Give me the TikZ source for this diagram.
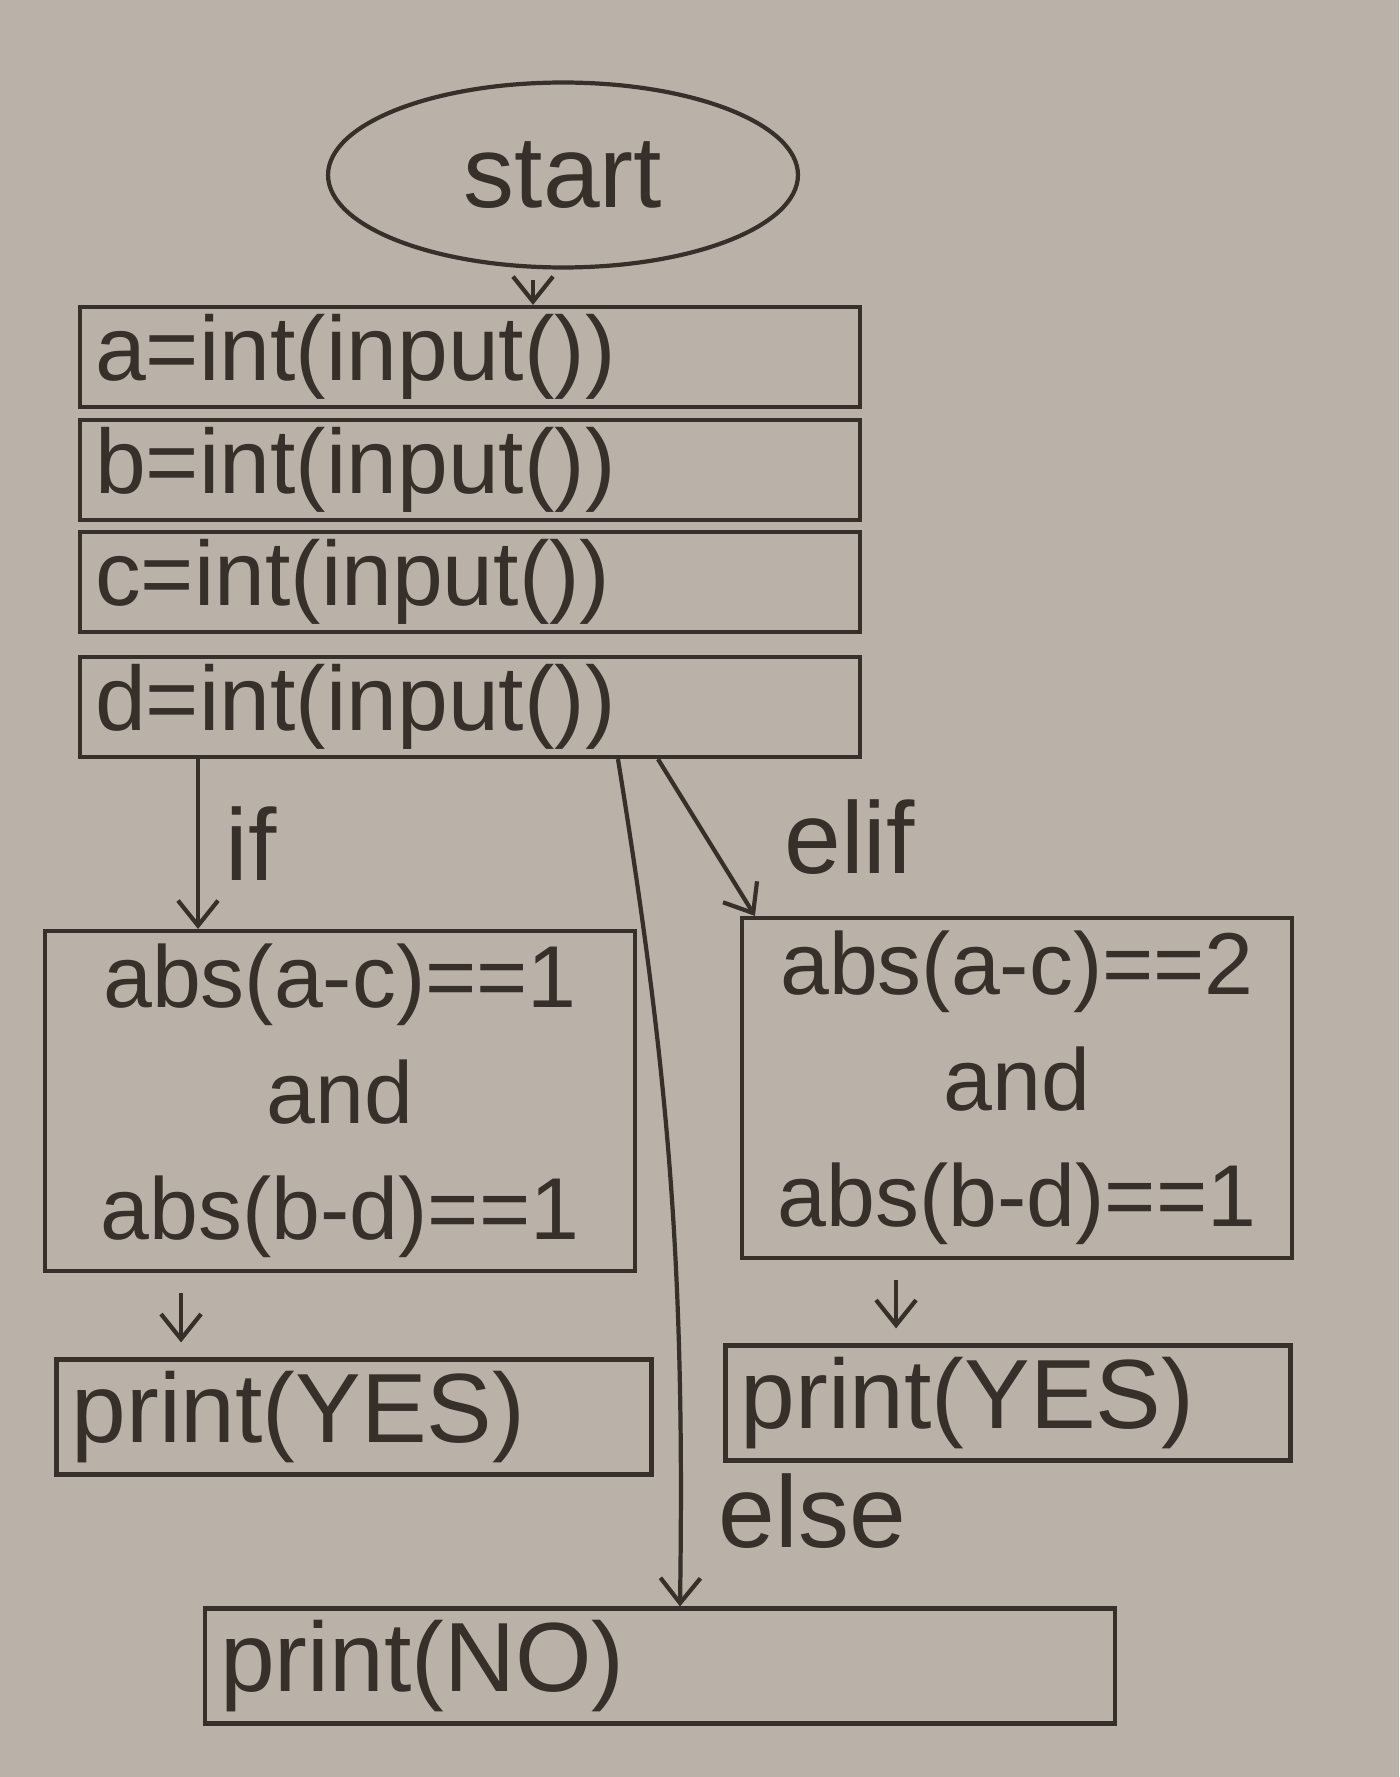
\documentclass[tikz,border=0pt]{standalone}
\usepackage{fontspec}
\setmainfont{Liberation Sans}
\usetikzlibrary{arrows.meta, positioning}
\usetikzlibrary{shapes.geometric}

\definecolor{paper}{RGB}{186,178,168}
\definecolor{ink}{RGB}{55,48,42}

\begin{document}
\begin{tikzpicture}[
    x=0.02cm, y=-0.02cm,
    every node/.style={draw=ink, text=ink, line width=2.4pt, align=center},
    startstop/.style={ellipse, minimum width=9.4cm, minimum height=3.7cm, font=\fontsize{58}{60}\selectfont},
    inbox/.style={rectangle, text width=15cm, inner xsep=0.3cm, inner ysep=0pt, minimum height=2cm, align=left, font=\fontsize{52}{54}\selectfont}, % input lines
    condbox/.style={rectangle, minimum height=6.8cm, inner xsep=0.2cm, font=\fontsize{50}{66}\selectfont},
    outbox/.style={rectangle, inner xsep=0.3cm, minimum height=2.3cm, align=left, font=\fontsize{56}{58}\selectfont},
    lbl/.style={draw=none, font=\fontsize{58}{60}\selectfont},
    line/.style={draw=ink, -{Straight Barb[length=0.5cm, width=0.8cm]}, line width=2.4pt}
]

\fill[paper] (0,0) rectangle (1399,1777);
\useasboundingbox (0,0) rectangle (1399,1777);

% Start
\node[startstop] (start) at (563,175) {start};

% Input lines
\node[inbox] (inA) at (470,357) {a=int(input())};
\node[inbox] (inB) at (470,470) {b=int(input())};
\node[inbox] (inC) at (470,582) {c=int(input())};
\node[inbox] (inD) at (470,707) {d=int(input())};

% if branch
\node[condbox, minimum width=11.8cm] (condL) at (340,1101) {abs(a-c)==1\\and\\abs(b-d)==1};
\node[outbox, text width=11.3cm] (printL) at (354,1417) {print(YES)};

% elif branch
\node[condbox, minimum width=11cm] (condR) at (1017,1088) {abs(a-c)==2\\and\\abs(b-d)==1};
\node[outbox, text width=10.7cm] (printR) at (1008,1403) {print(YES)};

% else branch
\node[outbox, text width=17.6cm] (printNO) at (660,1666) {print(NO)};

% Arrows
\path[line, shorten <=0.2cm] ([xshift=-0.6cm]start.south) -- ([xshift=-0.6cm]start.south |- inA.north);
\path[line] ([xshift=-2.84cm]condL.north |- inD.south) -- node[lbl, midway, right=0.4cm] {if} ([xshift=-2.84cm]condL.north);
\path[line] ([xshift=3.76cm]inD.south) -- node[lbl, midway, right=1.4cm] {elif} ([xshift=0.3cm]condR.north west);
\path[line] ([xshift=2.96cm]inD.south) to[bend left=5] node[lbl, pos=0.9, right=0.6cm] {else} ([xshift=0.4cm]printNO.north);
\path[line, shorten <=0.4cm, shorten >=0.3cm] ([xshift=-3.18cm]condL.south) -- ([xshift=-3.18cm]condL.south |- printL.north);
\path[line, shorten <=0.4cm, shorten >=0.3cm] ([xshift=-2.42cm]condR.south) -- ([xshift=-2.42cm]condR.south |- printR.north);

\end{tikzpicture}
\end{document}
